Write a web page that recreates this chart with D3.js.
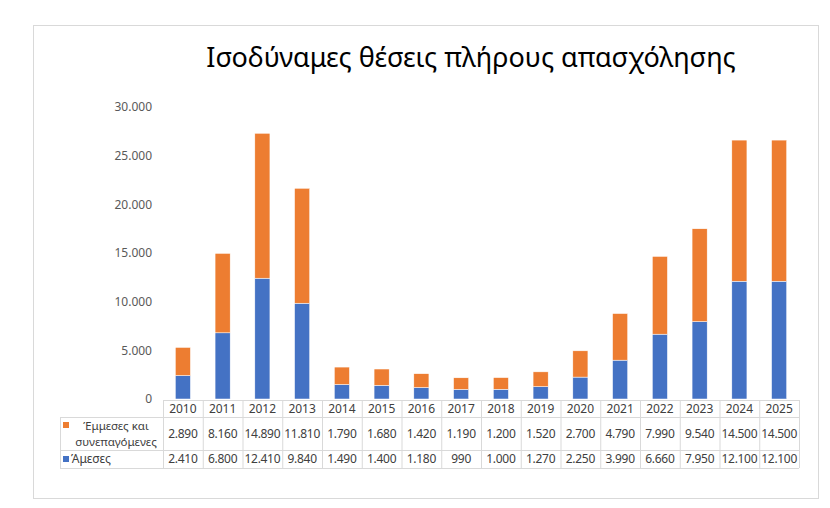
<!DOCTYPE html>
<html>
<head>
<meta charset="utf-8">
<script src="https://cdn.jsdelivr.net/npm/d3@7"></script>
<style>
  body { margin: 0; background: #fff; }
  svg text { font-family: "Noto Sans", sans-serif; }
</style>
</head>
<body>
<div id="chart"></div>
<script>
// dados do gráfico
var years = ["2010","2011","2012","2013","2014","2015","2016","2017","2018","2019","2020","2021","2022","2023","2024","2025"];
var amesa = [2410, 6800, 12410, 9840, 1490, 1400, 1180, 990, 1000, 1270, 2250, 3990, 6660, 7950, 12100, 12100];
var emmesa = [2890, 8160, 14890, 11810, 1790, 1680, 1420, 1190, 1200, 1520, 2700, 4790, 7990, 9540, 14500, 14500];
var yTicks = [0, 5000, 10000, 15000, 20000, 25000, 30000];
var title = "Ισοδύναμες θέσεις πλήρους απασχόλησης";
var seriesNames = ["Έμμεσες και|συνεπαγόμενες", "Άμεσες"];

var blue = "#4472C4", orange = "#ED7D31", grid = "#d9d9d9", txt = "#404040";

var width = 830, height = 508;

var grLocale = d3.formatLocale({decimal: ",", thousands: ".", grouping: [3], currency: ["", "€"]});
var fmt = grLocale.format(",d");

var svg = d3.select("#chart").append("svg")
    .attr("width", width)
    .attr("height", height);

// moldura
svg.append("rect")
    .attr("x", 33.5).attr("y", 25.5)
    .attr("width", 785).attr("height", 473)
    .attr("fill", "#fff")
    .attr("stroke", grid)
    .attr("stroke-width", 1);

// titulo
svg.append("text")
    .attr("x", 471).attr("y", 67)
    .attr("text-anchor", "middle")
    .attr("font-size", 27)
    .attr("fill", "#000")
    .text(title);

// escalas
var tableLeft = 163, tableRight = 799;
var xCol = d3.scaleBand().domain(years).range([tableLeft, tableRight]).padding(0);
var xBar = d3.scaleBand().domain(years).range([tableLeft, tableRight])
    .paddingInner(0.62).paddingOuter(0.31);
var y = d3.scaleLinear().domain([0, 30000]).range([399, 107]);

// eixo y
var yAxis = d3.axisLeft(y).tickValues(yTicks).tickFormat(fmt).tickSize(0).tickPadding(0);
var gy = svg.append("g")
    .attr("transform", "translate(152,0)")
    .call(yAxis);
gy.select(".domain").remove();
gy.selectAll("text")
    .attr("font-size", 12)
    .attr("fill", "#595959")
    .attr("font-family", "Noto Sans, sans-serif");

// barras empilhadas
var stackData = years.map(function(d, i) { return {year: d, amesa: amesa[i], emmesa: emmesa[i]}; });
var stack = d3.stack().keys(["amesa", "emmesa"]);
var layers = stack(stackData);
var colors = {amesa: blue, emmesa: orange};

svg.selectAll("g.layer")
    .data(layers)
    .enter().append("g")
    .attr("class", "layer")
    .attr("fill", function(d) { return colors[d.key]; })
    .selectAll("rect")
    .data(function(d) { return d; })
    .enter().append("rect")
    .attr("x", function(d) { return xBar(d.data.year); })
    .attr("y", function(d) { return y(d[1]); })
    .attr("width", xBar.bandwidth())
    .attr("height", function(d) { return y(d[0]) - y(d[1]); })
    .attr("stroke", "#fff")
    .attr("stroke-width", 0.5);

// tabela de dados
var rowTop = [400, 417, 450, 468];
var legendLeft = 60;
var tbl = svg.append("g").attr("class", "table");

// linhas horizontais
tbl.append("line").attr("x1", tableLeft).attr("x2", tableRight)
    .attr("y1", rowTop[0] + 0.5).attr("y2", rowTop[0] + 0.5);
[1, 2, 3].forEach(function(r) {
    tbl.append("line").attr("x1", legendLeft).attr("x2", tableRight)
        .attr("y1", rowTop[r] + 0.5).attr("y2", rowTop[r] + 0.5);
});
// linhas verticais
years.forEach(function(yr) {
    tbl.append("line").attr("x1", xCol(yr) + 0.5).attr("x2", xCol(yr) + 0.5)
        .attr("y1", rowTop[0]).attr("y2", rowTop[3]);
});
tbl.append("line").attr("x1", tableRight + 0.5).attr("x2", tableRight + 0.5)
    .attr("y1", rowTop[0]).attr("y2", rowTop[3]);
tbl.append("line").attr("x1", legendLeft + 0.5).attr("x2", legendLeft + 0.5)
    .attr("y1", rowTop[1]).attr("y2", rowTop[3]);
tbl.selectAll("line").attr("stroke", grid).attr("stroke-width", 1);

// cabeçalho
tbl.selectAll("text.year")
    .data(years)
    .enter().append("text")
    .attr("class", "year")
    .attr("x", function(d) { return xCol(d) + xCol.bandwidth() / 2; })
    .attr("y", (rowTop[0] + rowTop[1]) / 2)
    .attr("dy", "0.35em")
    .attr("text-anchor", "middle")
    .attr("font-size", 12)
    .attr("fill", txt)
    .text(function(d) { return d; });

// valores
var rows = [emmesa, amesa];
rows.forEach(function(vals, r) {
    var cy = (rowTop[r + 1] + rowTop[r + 2]) / 2;
    tbl.selectAll("text.v" + r)
        .data(vals)
        .enter().append("text")
        .attr("class", "v" + r)
        .attr("x", function(d, i) { return xCol(years[i]) + xCol.bandwidth() / 2; })
        .attr("y", cy)
        .attr("dy", "0.35em")
        .attr("text-anchor", "middle")
        .attr("font-size", 12)
        .attr("letter-spacing", -0.3)
        .attr("fill", txt)
        .text(function(d) { return fmt(d); });
});

// legenda
tbl.append("rect").attr("x", 63).attr("y", 422).attr("width", 6).attr("height", 6).attr("fill", orange);
var l1 = seriesNames[0].split("|");
l1.forEach(function(s, i) {
    tbl.append("text")
        .attr("x", 116).attr("y", 426 + i * 16)
        .attr("dy", "0.35em")
        .attr("text-anchor", "middle")
        .attr("font-size", 11.5)
        .attr("fill", txt)
        .text(s);
});
tbl.append("rect").attr("x", 63).attr("y", 456).attr("width", 6).attr("height", 6).attr("fill", blue);
tbl.append("text")
    .attr("x", 71).attr("y", 459)
    .attr("dy", "0.35em")
    .attr("font-size", 12)
    .attr("fill", txt)
    .text(seriesNames[1]);
</script>
</body>
</html>
